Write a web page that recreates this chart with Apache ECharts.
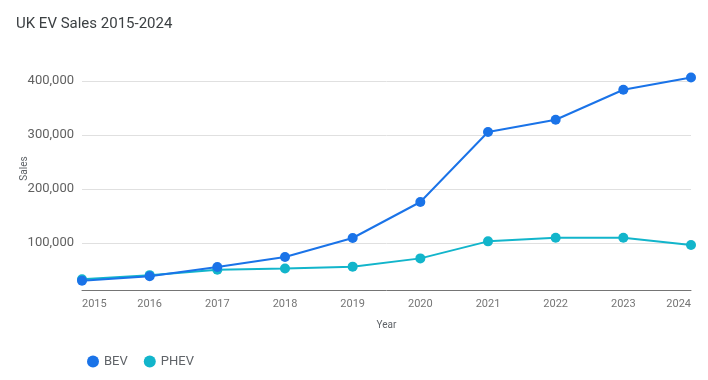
<!DOCTYPE html>
<html>
<head>
<meta charset="utf-8">
<script src="https://cdn.jsdelivr.net/npm/echarts@6/dist/echarts.min.js"></script>
<style>
html,body{margin:0;padding:0;background:#fff;}
#chart{width:708px;height:380px;}
</style>
</head>
<body>
<div id="chart"></div>
<script>
const years = ['2015','2016','2017','2018','2019','2020','2021','2022','2023','2024'];
const bevSales = [30300, 38600, 55600, 74100, 109200, 175800, 305200, 327900, 383400, 406000];
const phevSales = [33000, 40500, 50600, 52900, 56200, 71500, 103000, 109800, 109800, 96300];

const chart = echarts.init(document.getElementById('chart'), null, {renderer: 'canvas'});
const fontFamily = 'Roboto, "Noto Sans", Arial, sans-serif';
chart.setOption({
  animation: false,
  color: ['#1a73e8', '#12b5cb'],
  title: {
    text: 'UK EV Sales 2015-2024',
    left: 11,
    top: 12,
    textStyle: {fontFamily, fontSize: 15, fontWeight: 'normal', color: '#3c4043'}
  },
  legend: {
    left: 82,
    top: 350,
    icon: 'circle',
    itemWidth: 12,
    itemHeight: 12,
    itemGap: 16,
    textStyle: {fontFamily, fontSize: 13, color: '#5f6368'},
    data: ['BEV', 'PHEV']
  },
  grid: {left: 82, right: 17, top: 70, bottom: 90, containLabel: false},
  xAxis: {
    type: 'category',
    boundaryGap: false,
    data: years,
    name: 'Year',
    nameLocation: 'middle',
    nameGap: 30,
    nameMoveOverlap: false,
    nameTextStyle: {fontFamily, fontSize: 10, color: '#5f6368'},
    axisLine: {show: true, lineStyle: {color: '#757575', width: 1}},
    axisTick: {show: false},
    axisLabel: {fontFamily, fontSize: 11, color: '#757575', margin: 9, alignMinLabel: 'left', alignMaxLabel: 'right'},
    splitLine: {show: false}
  },
  yAxis: {
    type: 'value',
    min: 13000,
    max: 420000,
    name: 'Sales',
    nameLocation: 'middle',
    nameGap: 53,
    nameMoveOverlap: false,
    nameTextStyle: {fontFamily, fontSize: 10, color: '#5f6368', padding: [0, 0, 0, 23]},
    axisLine: {show: false},
    axisTick: {show: false},
    axisLabel: {fontFamily, fontSize: 13, color: '#616161', margin: 8, showMinLabel: false, showMaxLabel: false},
    splitLine: {show: true, showMinLine: false, showMaxLine: false, lineStyle: {color: '#e0e0e0', width: 1}}
  },
  series: [
    {
      name: 'BEV',
      type: 'line',
      data: bevSales,
      symbol: 'circle',
      symbolSize: 10,
      lineStyle: {width: 2},
      z: 3
    },
    {
      name: 'PHEV',
      type: 'line',
      data: phevSales,
      symbol: 'circle',
      symbolSize: 10,
      lineStyle: {width: 2},
      z: 2
    }
  ]
});
</script>
</body>
</html>
